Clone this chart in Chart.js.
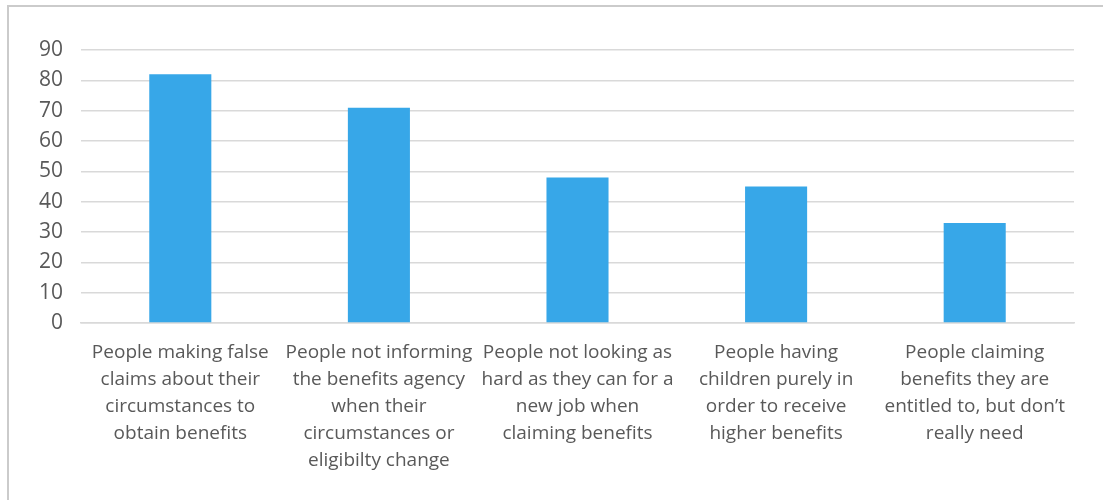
<!DOCTYPE html>
<html>
<head>
<meta charset="utf-8">
<script src="https://cdn.jsdelivr.net/npm/chart.js@4/dist/chart.umd.min.js"></script>
<style>
  html, body { margin: 0; padding: 0; background: #fff; overflow: hidden; }
  #frame {
    position: absolute; left: 7px; top: 5px; width: 1200px; height: 600px;
    border: 2px solid #cbcbcb; box-sizing: border-box;
  }
  #wrap { position: absolute; left: 0; top: 0; width: 1103px; height: 500px; }
</style>
</head>
<body>
<div id="frame"></div>
<div id="wrap"><canvas id="barCanvas" width="1103" height="500"></canvas></div>
<script>
const categoryLabels = [
  ["People making false", "claims about their", "circumstances to", "obtain benefits"],
  ["People not informing", "the benefits agency", "when their", "circumstances or", "eligibilty change"],
  ["People not looking as", "hard as they can for a", "new job when", "claiming benefits"],
  ["People having", "children purely in", "order to receive", "higher benefits"],
  ["People claiming", "benefits they are", "entitled to, but don\u2019t", "really need"]
];

const percentValues = [82, 71, 48, 45, 33];

const yMin = 0;
const yMax = 90;
const yStep = 10;

const barColor = "#37a7e8";
const textColor = "#595959";
const gridColor = "#d9d9d9";

new Chart("barCanvas", {
  type: "bar",
  data: {
    labels: categoryLabels,
    datasets: [{
      data: percentValues,
      backgroundColor: barColor,
      borderWidth: 0,
      barPercentage: 0.3125,
      categoryPercentage: 1
    }]
  },
  options: {
    responsive: false,
    animation: false,
    layout: { padding: { left: 0, right: 29, top: 50, bottom: 0 } },
    plugins: {
      legend: { display: false },
      tooltip: { enabled: false }
    },
    scales: {
      x: {
        grid: { display: false, drawTicks: false },
        border: { display: true, color: gridColor, width: 1.5 },
        ticks: {
          color: textColor,
          font: { family: "Open Sans", size: 19, lineHeight: 1.42 },
          padding: 16,
          maxRotation: 0,
          autoSkip: false
        },
        afterFit: function(scale) { scale.height = 177; }
      },
      y: {
        min: yMin,
        max: yMax,
        grid: { color: gridColor, lineWidth: 1.5, drawTicks: false },
        border: { display: false },
        ticks: {
          stepSize: yStep,
          color: textColor,
          font: { family: "Open Sans", size: 21 },
          padding: 18
        },
        afterFit: function(scale) { scale.width = 81; }
      }
    }
  }
});
</script>
</body>
</html>
